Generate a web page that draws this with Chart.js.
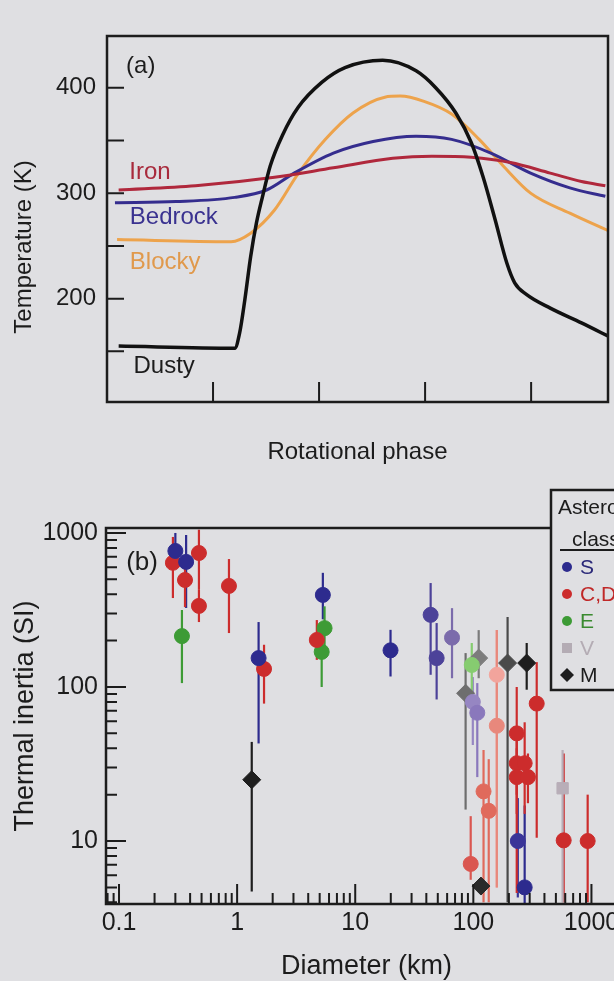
<!DOCTYPE html>
<html>
<head>
<meta charset="utf-8">
<title>Asteroid surface temperature and thermal inertia</title>
<script src="https://cdn.jsdelivr.net/npm/chart.js"></script>
<style>
  html, body { margin: 0; padding: 0; }
  body {
    width: 614px; height: 981px; overflow: hidden; position: relative;
    background: #dfdfe2;
  }
  #wrapA { position: absolute; left: 0; top: 0; width: 614px; height: 480px; }
  #wrapB { position: absolute; left: 0; top: 480px; width: 700px; height: 510px; }
</style>
</head>
<body>
<div id="wrapA"><canvas id="chartA" width="614" height="480"></canvas></div>
<div id="wrapB"><canvas id="chartB" width="700" height="510"></canvas></div>
<script>
// ---------- panel (a): temperature over one rotation ----------
const phaseTicks = [0.2, 0.4, 0.6, 0.8];
const tempTicks = [150, 200, 250, 300, 350, 400];
const tempLabels = [200, 300, 400];

const ironPhase = [0.022, 0.167, 0.316, 0.427, 0.539, 0.613, 0.687, 0.761, 0.836, 0.895, 0.940];
const ironTemp  = [303, 307, 315, 324, 333, 335, 334, 329, 319, 311, 307];

const bedrockPhase = [0.015, 0.130, 0.241, 0.301, 0.353, 0.427, 0.502, 0.583, 0.650, 0.724, 0.799, 0.873, 0.940];
const bedrockTemp  = [291, 292, 296, 303, 319, 338, 349, 354, 351, 338, 319, 305, 297];

const blockyPhase = [0.019, 0.234, 0.271, 0.316, 0.360, 0.412, 0.464, 0.524, 0.553, 0.598, 0.650, 0.702, 0.747, 0.799, 0.873, 0.947];
const blockyTemp  = [256, 254, 262, 284, 318, 351, 376, 391, 392, 387, 375, 351, 326, 300, 281, 264];

const dustyPhase = [0.022, 0.241, 0.250, 0.260, 0.271, 0.282, 0.293, 0.308, 0.331, 0.360, 0.405, 0.449, 0.520,
                    0.583, 0.620, 0.658, 0.687, 0.709, 0.732, 0.754, 0.769, 0.791, 0.836, 0.895, 0.951];
const dustyTemp  = [155, 153, 167, 199, 240, 272, 296, 326, 355, 381, 405, 419, 426,
                    416, 400, 376, 348, 316, 275, 234, 215, 204, 191, 177, 163];

// ---------- panel (b): thermal inertia vs diameter ----------
const xLabelValues = [0.1, 1, 10, 100, 1000];
const yLabelValues = [10, 100, 1000];

// S class
const sDiam    = [0.30, 0.37, 1.52, 5.32, 19.9, 43.5, 48.9, 66, 99, 108, 238, 272];
const sInertia = [764, 649, 154, 396, 173, 294, 154, 209, 80, 68, 10, 5.0];
const sLow     = [640, 326, 43, 275, 117, 120, 83, 114, 42, 26, 4.3, 3.9];
const sHigh    = [1000, 970, 264, 551, 235, 473, 260, 325, 116, 106, 19, 17];

// C, D, ... classes
const cDiam    = [0.286, 0.362, 0.475, 0.475, 0.853, 1.69, 4.73, 95, 122, 135, 158, 158, 233, 233, 233, 272, 290, 344, 582, 929];
const cInertia = [640, 495, 741, 336, 453, 131, 202, 7.1, 21, 15.7, 120, 56, 32, 50, 26, 32, 26, 78, 10.1, 10];
const cLow     = [378, 330, 427, 264, 224, 78, 150, 5.6, 4.0, 4.0, 5, 5, 20, 4.6, 15, 15, 17.6, 10.5, 4.0, 4.0];
const cHigh    = [942, 705, 1050, 427, 677, 188, 272, 14.5, 39, 34, 234, 234, 45, 100, 40, 59, 37, 145, 37, 20];

// E class
const eDiam    = [0.341, 5.2, 5.5, 97];
const eInertia = [214, 169, 241, 139];
const eLow     = [106, 100, 166, 63];
const eHigh    = [316, 202, 334, 193];

// V class
const vDiam    = [570];
const vInertia = [22];
const vLow     = [4.0];
const vHigh    = [39];

// M class
const mDiam    = [1.33, 86, 111, 116, 195, 283];
const mInertia = [25, 91, 154, 5.1, 143, 143];
const mLow     = [4.7, 16, 114, 5.1, 4.0, 96];
const mHigh    = [44, 166, 234, 5.1, 285, 193];

const ink = "#1c1c1c";
const paper = "#dfdfe2";
const fontFam = '"Liberation Sans", Arial, Helvetica, sans-serif';

function xy(xs, ys) {
  return xs.map((x, i) => ({ x: x, y: ys[i] }));
}

function pointsOf(xs, ys, lo, hi) {
  return xs.map((x, i) => ({ x: x, y: ys[i], lo: lo[i], hi: hi[i] }));
}

function logTicks(min, max) {
  const out = [];
  for (let e = Math.floor(Math.log10(min)); e <= Math.ceil(Math.log10(max)); e++) {
    for (let m = 1; m <= 9; m++) {
      const v = parseFloat((m * Math.pow(10, e)).toPrecision(6));
      if (v >= min && v <= max) out.push(v);
    }
  }
  return out;
}

// ticks that point into the plot, like the printed figure
function inwardTicks(chart, id, majors, majorLen, minorLen) {
  const s = chart.scales[id];
  const a = chart.chartArea;
  const ctx = chart.ctx;
  ctx.save();
  ctx.strokeStyle = ink;
  ctx.lineWidth = 2;
  ctx.beginPath();
  s.ticks.forEach(t => {
    const len = majors.includes(t.value) ? majorLen : minorLen;
    const p = s.getPixelForValue(t.value);
    if (s.isHorizontal()) {
      ctx.moveTo(p, a.bottom);
      ctx.lineTo(p, a.bottom - len);
    } else {
      ctx.moveTo(a.left, p);
      ctx.lineTo(a.left + len, p);
    }
  });
  ctx.stroke();
  ctx.restore();
}

function frame(chart) {
  const a = chart.chartArea;
  const ctx = chart.ctx;
  ctx.save();
  ctx.strokeStyle = ink;
  ctx.lineWidth = 2.5;
  ctx.strokeRect(a.left, a.top, a.right - a.left, a.bottom - a.top);
  ctx.restore();
}

// ---------- chart (a) ----------
const curveLabels = [
  { text: "Iron", x: 0.042, y: 320, color: "#a82a3c" },
  { text: "Bedrock", x: 0.043, y: 277, color: "#3a3290" },
  { text: "Blocky", x: 0.043, y: 234, color: "#e0994c" },
  { text: "Dusty", x: 0.05, y: 136, color: ink },
  { text: "(a)", x: 0.036, y: 420, color: ink }
];

const decorA = {
  id: "decorA",
  afterDraw(chart) {
    frame(chart);
    inwardTicks(chart, "y", [], 17, 17);
    inwardTicks(chart, "x", [], 20, 20);
    const ctx = chart.ctx;
    const xs = chart.scales.x, ys = chart.scales.y;
    ctx.save();
    ctx.font = "24px " + fontFam;
    ctx.textBaseline = "middle";
    ctx.textAlign = "left";
    curveLabels.forEach(l => {
      ctx.fillStyle = l.color;
      ctx.fillText(l.text, xs.getPixelForValue(l.x), ys.getPixelForValue(l.y));
    });
    // y axis title
    ctx.translate(24, 247);
    ctx.rotate(-Math.PI / 2);
    ctx.textAlign = "center";
    ctx.fillStyle = ink;
    ctx.fillText("Temperature (K)", 0, 0);
    ctx.restore();
  }
};

new Chart(document.getElementById("chartA"), {
  type: "line",
  data: {
    datasets: [
      { label: "Dusty", data: xy(dustyPhase, dustyTemp), borderColor: "#111111", borderWidth: 3.5 },
      { label: "Iron", data: xy(ironPhase, ironTemp), borderColor: "#b0283c" },
      { label: "Bedrock", data: xy(bedrockPhase, bedrockTemp), borderColor: "#352d8e" },
      { label: "Blocky", data: xy(blockyPhase, blockyTemp), borderColor: "#eda34c" }
    ]
  },
  options: {
    responsive: false,
    animation: false,
    devicePixelRatio: 1,
    layout: { padding: { top: 36, right: 6, left: 0, bottom: 0 } },
    elements: {
      point: { radius: 0 },
      line: { borderWidth: 3, cubicInterpolationMode: "monotone", fill: false }
    },
    plugins: { legend: { display: false }, tooltip: { enabled: false } },
    scales: {
      x: {
        type: "linear", min: 0, max: 0.945,
        grid: { display: false, drawTicks: false },
        border: { display: false },
        afterBuildTicks: s => { s.ticks = phaseTicks.map(v => ({ value: v })); },
        afterFit: s => { s.height = 78; },
        ticks: { autoSkip: false, callback: () => "" },
        title: {
          display: true, text: "Rotational phase", color: ink,
          font: { size: 24, family: fontFam }, padding: { top: 0, bottom: 13 }
        }
      },
      y: {
        type: "linear", min: 102, max: 449,
        grid: { display: false, drawTicks: false },
        border: { display: false },
        afterBuildTicks: s => { s.ticks = tempTicks.map(v => ({ value: v })); },
        afterFit: s => { s.width = 107; },
        ticks: {
          autoSkip: false, padding: 11, color: ink,
          font: { size: 24, family: fontFam },
          callback: v => tempLabels.includes(v) ? String(v) : ""
        }
      }
    }
  },
  plugins: [decorA]
});

// ---------- chart (b) ----------
const errorBars = {
  id: "errorBars",
  beforeDatasetsDraw(chart) {
    const ctx = chart.ctx;
    const xs = chart.scales.x, ys = chart.scales.y;
    const a = chart.chartArea;
    ctx.save();
    ctx.beginPath();
    ctx.rect(a.left, a.top, a.right - a.left, a.bottom - a.top);
    ctx.clip();
    ctx.lineWidth = 2.2;
    chart.data.datasets.forEach(ds => {
      ds.data.forEach((d, i) => {
        if (d.hi === d.lo) return;
        const col = Array.isArray(ds.barColor) ? ds.barColor[i] : ds.barColor;
        const x = xs.getPixelForValue(d.x);
        ctx.strokeStyle = col;
        ctx.beginPath();
        ctx.moveTo(x, ys.getPixelForValue(d.hi));
        ctx.lineTo(x, ys.getPixelForValue(d.lo));
        ctx.stroke();
      });
    });
    ctx.restore();
  }
};

const decorB = {
  id: "decorB",
  afterDraw(chart) {
    frame(chart);
    inwardTicks(chart, "y", yLabelValues, 20, 11);
    inwardTicks(chart, "x", xLabelValues, 20, 11);
    const ctx = chart.ctx;
    const xs = chart.scales.x, ys = chart.scales.y;
    ctx.save();
    ctx.font = "26px " + fontFam;
    ctx.fillStyle = ink;
    ctx.textBaseline = "middle";
    ctx.fillText("(b)", xs.getPixelForValue(0.115), ys.getPixelForValue(638));

    // class legend box
    const bx = 551, by = 10;
    ctx.fillStyle = paper;
    ctx.fillRect(bx, by, 200, 200);
    ctx.strokeStyle = ink;
    ctx.lineWidth = 2.5;
    ctx.strokeRect(bx, by, 200, 200);
    ctx.font = "21px " + fontFam;
    ctx.fillStyle = ink;
    ctx.fillText("Asteroid", 558, 28);
    ctx.fillText("class", 572, 60);
    ctx.lineWidth = 2;
    ctx.beginPath();
    ctx.moveTo(560, 70);
    ctx.lineTo(700, 70);
    ctx.stroke();
    chart.data.datasets.forEach((ds, i) => {
      const y = 87 + i * 27;
      const mx = 567;
      ctx.fillStyle = ds.legendColor;
      ctx.beginPath();
      if (ds.pointStyle === "rect") {
        ctx.rect(mx - 5, y - 5, 10, 10);
      } else if (ds.pointStyle === "rectRot") {
        ctx.moveTo(mx, y - 7);
        ctx.lineTo(mx + 7, y);
        ctx.lineTo(mx, y + 7);
        ctx.lineTo(mx - 7, y);
        ctx.closePath();
      } else {
        ctx.arc(mx, y, 5, 0, Math.PI * 2);
      }
      ctx.fill();
      ctx.fillStyle = ds.textColor;
      ctx.fillText(ds.label, 580, y + 1);
    });
    ctx.restore();
  }
};

const sShade = ["#2d2b8e", "#2d2b8e", "#2d2b8e", "#2d2b8e", "#2d2b8e", "#4c4299", "#4c4299",
                "#7b6bab", "#9686c2", "#8a78bc", "#3a3598", "#2d2b8e"];
const cShade = ["#cc2c2c", "#cc2c2c", "#cc2c2c", "#cc2c2c", "#cc2c2c", "#cc2c2c", "#cc2c2c",
                "#da5650", "#e06a5c", "#e06a5c", "#f2a49c", "#e8887c",
                "#cc2c2c", "#cc2c2c", "#cc2c2c", "#cc2c2c", "#cc2c2c", "#cc2c2c", "#cc2c2c", "#cc2c2c"];
const eShade = ["#3d9b35", "#3d9b35", "#3d9b35", "#86cc70"];
const mShade = ["#1e1e1e", "#6e6e6e", "#7c7c7c", "#2a2a2a", "#4a4a4a", "#1e1e1e"];

new Chart(document.getElementById("chartB"), {
  type: "scatter",
  data: {
    datasets: [
      {
        label: "S", data: pointsOf(sDiam, sInertia, sLow, sHigh),
        pointStyle: "circle", pointRadius: 7.5,
        backgroundColor: sShade, borderColor: sShade, barColor: sShade,
        legendColor: "#2d2b8e", textColor: "#2a2878"
      },
      {
        label: "C,D,P", data: pointsOf(cDiam, cInertia, cLow, cHigh),
        pointStyle: "circle", pointRadius: 7.5,
        backgroundColor: cShade, borderColor: cShade, barColor: cShade,
        legendColor: "#cc2c2c", textColor: "#c02828"
      },
      {
        label: "E", data: pointsOf(eDiam, eInertia, eLow, eHigh),
        pointStyle: "circle", pointRadius: 7.5,
        backgroundColor: eShade, borderColor: eShade, barColor: eShade,
        legendColor: "#3d9b35", textColor: "#3a8a30"
      },
      {
        label: "V", data: pointsOf(vDiam, vInertia, vLow, vHigh),
        pointStyle: "rect", pointRadius: 8,
        backgroundColor: "#b8aeb8", borderColor: "#b8aeb8", barColor: "#b8aeb8",
        legendColor: "#b4acb4", textColor: "#b4acb4"
      },
      {
        label: "M", data: pointsOf(mDiam, mInertia, mLow, mHigh),
        pointStyle: "rectRot", pointRadius: 9,
        backgroundColor: mShade, borderColor: mShade, barColor: mShade,
        legendColor: "#1e1e1e", textColor: ink
      }
    ]
  },
  options: {
    responsive: false,
    animation: false,
    devicePixelRatio: 1,
    layout: { padding: { top: 48, right: 73, left: 0, bottom: 0 } },
    elements: { point: { borderWidth: 1 } },
    plugins: { legend: { display: false }, tooltip: { enabled: false } },
    scales: {
      x: {
        type: "logarithmic", min: 0.0776, max: 2000,
        grid: { display: false, drawTicks: false },
        border: { display: false },
        afterBuildTicks: s => { s.ticks = logTicks(s.min, s.max).map(v => ({ value: v })); },
        afterFit: s => { s.height = 86; },
        ticks: {
          autoSkip: false, maxRotation: 0, padding: 4, color: ink,
          font: { size: 25, family: fontFam },
          callback: v => xLabelValues.includes(v) ? String(v) : ""
        },
        title: {
          display: true, text: "Diameter (km)", color: ink,
          font: { size: 27, family: fontFam }, padding: { top: 0, bottom: 7 }
        }
      },
      y: {
        type: "logarithmic", min: 3.9, max: 1077,
        grid: { display: false, drawTicks: false },
        border: { display: false },
        afterBuildTicks: s => { s.ticks = logTicks(s.min, s.max).map(v => ({ value: v })); },
        afterFit: s => { s.width = 106; },
        ticks: {
          autoSkip: false, padding: 8, color: ink,
          font: { size: 25, family: fontFam },
          callback: v => yLabelValues.includes(v) ? String(v) : ""
        },
        title: {
          display: true, text: "Thermal inertia (SI)", color: ink,
          font: { size: 27, family: fontFam }, padding: { top: 9, bottom: 0 }
        }
      }
    }
  },
  plugins: [errorBars, decorB]
});
</script>
</body>
</html>
